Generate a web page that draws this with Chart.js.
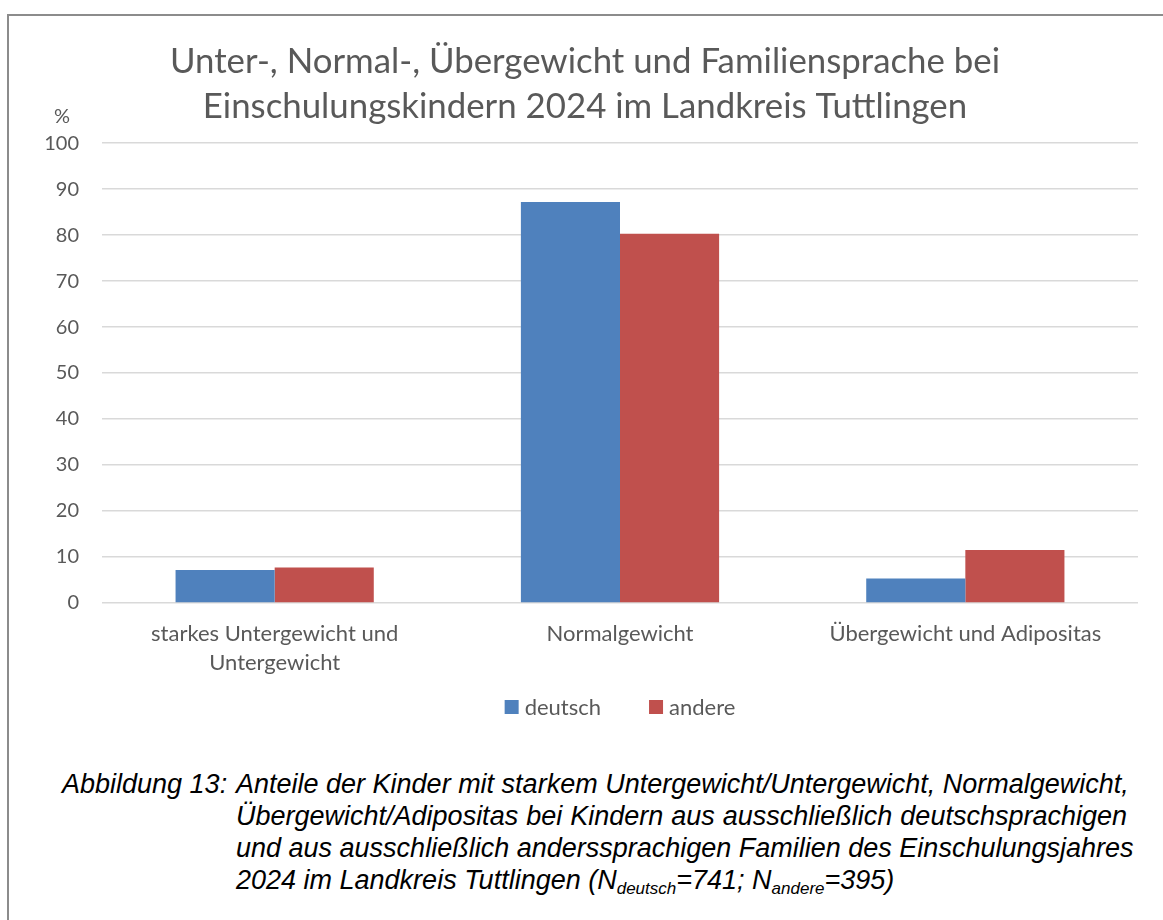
<!DOCTYPE html>
<html>
<head>
<meta charset="utf-8">
<script src="https://cdn.jsdelivr.net/npm/chart.js"></script>
<style>
  body { margin: 0; background: #fff; width: 1163px; height: 920px; overflow: hidden; position: relative; }
  #frame { position: absolute; left: 7px; top: 14px; width: 1200px; height: 1000px;
           border-top: 2px solid #8c8c8c; border-left: 2px solid #8c8c8c; }
  #wrap { position: absolute; left: 8px; top: 15px; width: 1155px; height: 720px; }
  #caption { position: absolute; left: 0; top: 768px; width: 1163px;
             font-family: "Liberation Sans", Arial, sans-serif; font-style: italic;
             font-size: 27px; line-height: 32px; color: #000; }
  #caption .label { position: absolute; left: 62px; top: 0; }
  #caption .body { position: absolute; left: 236px; top: 0; width: 891px; }
  #caption .body div { text-align: justify; text-align-last: justify; white-space: nowrap; }
  #caption .body div.last { text-align-last: left; }
  #caption sub { font-size: 17px; vertical-align: -5px; line-height: 0; }
</style>
</head>
<body>
<div id="frame"></div>
<div id="wrap"><canvas id="chart" width="1155" height="720"></canvas></div>
<div id="caption">
  <div class="label">Abbildung 13:</div>
  <div class="body">
    <div>Anteile der Kinder mit starkem Untergewicht/Untergewicht, Normalgewicht,</div>
    <div>Übergewicht/Adipositas bei Kindern aus ausschließlich deutschsprachigen</div>
    <div>und aus ausschließlich anderssprachigen Familien des Einschulungsjahres</div>
    <div class="last">2024 im Landkreis Tuttlingen (N<sub>deutsch</sub>=741; N<sub>andere</sub>=395)</div>
  </div>
</div>
<script>
const categories = [
  ["starkes Untergewicht und", "Untergewicht"],
  "Normalgewicht",
  "Übergewicht und Adipositas",
];
const deutschValues = [7.2, 87.2, 5.3];
const andereValues = [7.7, 80.3, 11.5];
const titleLines = [
  "Unter-, Normal-, Übergewicht und Familiensprache bei",
  "Einschulungskindern 2024 im Landkreis Tuttlingen",
];

const textGrey = "#595959";
const fontFamily = "Lato, 'Open Sans', sans-serif";

// "%" unit label above the y axis
const unitLabel = {
  id: "unitLabel",
  afterDraw(chart) {
    const ctx = chart.ctx;
    const y = chart.scales.y.getPixelForValue(100);
    ctx.save();
    ctx.font = "20px " + fontFamily;
    ctx.fillStyle = textGrey;
    ctx.textAlign = "center";
    ctx.textBaseline = "middle";
    ctx.fillText("%", 54, y - 27);
    ctx.restore();
  },
};

// legend drawn by hand so it can sit centred under the plot area
const plotLegend = {
  id: "plotLegend",
  afterDraw(chart) {
    const ctx = chart.ctx;
    const area = chart.chartArea;
    const y = area.bottom + 104;
    ctx.save();
    ctx.font = "22px " + fontFamily;
    ctx.textBaseline = "middle";
    const items = chart.data.datasets.map((ds) => ({
      label: ds.label,
      color: ds.backgroundColor,
      w: 14 + 6 + ctx.measureText(ds.label).width,
    }));
    const gap = 48;
    const total = items.reduce((s, it) => s + it.w, 0) + gap * (items.length - 1);
    let x = (area.left + area.right) / 2 - total / 2;
    items.forEach((it) => {
      ctx.fillStyle = it.color;
      ctx.fillRect(x, y - 7, 14, 14);
      ctx.fillStyle = textGrey;
      ctx.fillText(it.label, x + 20, y + 1);
      x += it.w + gap;
    });
    ctx.restore();
  },
};

new Chart(document.getElementById("chart"), {
  type: "bar",
  data: {
    labels: categories,
    datasets: [
      { label: "deutsch", data: deutschValues, backgroundColor: "#4F81BD" },
      { label: "andere", data: andereValues, backgroundColor: "#C0504D" },
    ],
  },
  options: {
    responsive: false,
    animation: false,
    categoryPercentage: 0.574,
    barPercentage: 1,
    // left padding balances the right one so the title is centred on the frame
    layout: { padding: { left: 24, right: 25, top: 0, bottom: 42 } },
    scales: {
      x: {
        grid: { display: false },
        border: { display: false },
        ticks: {
          color: textGrey,
          font: { family: fontFamily, size: 22, lineHeight: 1.32 },
          padding: 8,
          maxRotation: 0,
          autoSkip: false,
        },
        afterFit(scale) { scale.height = 90; },
      },
      y: {
        min: 0,
        max: 100,
        grid: { color: "#D9D9D9", lineWidth: 1.5, drawTicks: false },
        border: { display: false },
        ticks: {
          stepSize: 10,
          color: textGrey,
          font: { family: fontFamily, size: 20 },
          padding: 23,
        },
        afterFit(scale) { scale.width = 70; },
      },
    },
    plugins: {
      legend: { display: false },
      tooltip: { enabled: false },
      title: {
        display: true,
        text: titleLines,
        color: textGrey,
        font: { family: fontFamily, size: 34.8, weight: "normal", lineHeight: 1.28 },
        padding: { top: 25, bottom: 14 },
      },
    },
  },
  plugins: [unitLabel, plotLegend],
});
</script>
</body>
</html>
